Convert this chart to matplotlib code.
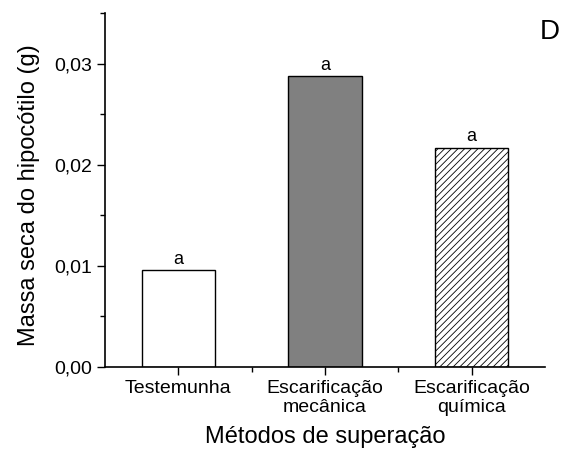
import matplotlib
matplotlib.use("Agg")
import matplotlib.pyplot as plt
from matplotlib.ticker import MultipleLocator, FixedLocator

plt.rcParams['font.family'] = ['Liberation Sans', 'DejaVu Sans']
plt.rcParams['hatch.linewidth'] = 0.6

# dados
metodos = ['Testemunha', 'Escarificação\nmecânica', 'Escarificação\nquímica']
massa = [0.0096, 0.0288, 0.0217]
letras = ['a', 'a', 'a']
cores = ['white', '#808080', 'white']
hachuras = ['', '', '/////']

fig = plt.figure(figsize=(5.61, 4.54), dpi=100)
ax = fig.add_axes([105/561, 1-367/454, 440/561, 354/454])

x = range(len(metodos))
bars = ax.bar(x, massa, width=0.5, color=cores, edgecolor='black', linewidth=1)
for b, h in zip(bars, hachuras):
    b.set_hatch(h)

for xi, v, l in zip(x, massa, letras):
    ax.annotate(l, (xi, v), xytext=(0, 1.5), textcoords='offset points',
                ha='center', va='bottom', fontsize=13)

ax.set_xlim(-0.5, 2.5)
ax.set_ylim(0, 0.035)
ax.set_xticks(list(x))
ax.set_xticklabels(metodos, fontsize=14, linespacing=1.15)
ax.xaxis.set_minor_locator(FixedLocator([0.5, 1.5]))
ax.yaxis.set_major_locator(MultipleLocator(0.01))
ax.yaxis.set_minor_locator(MultipleLocator(0.005))
ax.set_yticklabels([f'{t:.2f}'.replace('.', ',') for t in ax.get_yticks()], fontsize=14)

ax.tick_params(which='major', direction='out', length=6, width=1)
ax.tick_params(which='minor', direction='out', length=3.5, width=1)

ax.spines['top'].set_visible(False)
ax.spines['right'].set_visible(False)
ax.spines['left'].set_linewidth(1.2)
ax.spines['bottom'].set_linewidth(1.2)

ax.set_xlabel('Métodos de superação', fontsize=17, labelpad=7)
ax.set_ylabel('Massa seca do hipocótilo (g)', fontsize=17, labelpad=10)
ax.yaxis.label.set_y(0.485)

fig.text(550/561, 1-32/454, 'D', fontsize=20, ha='center', va='center')

fig.savefig('out.png', dpi=100)
